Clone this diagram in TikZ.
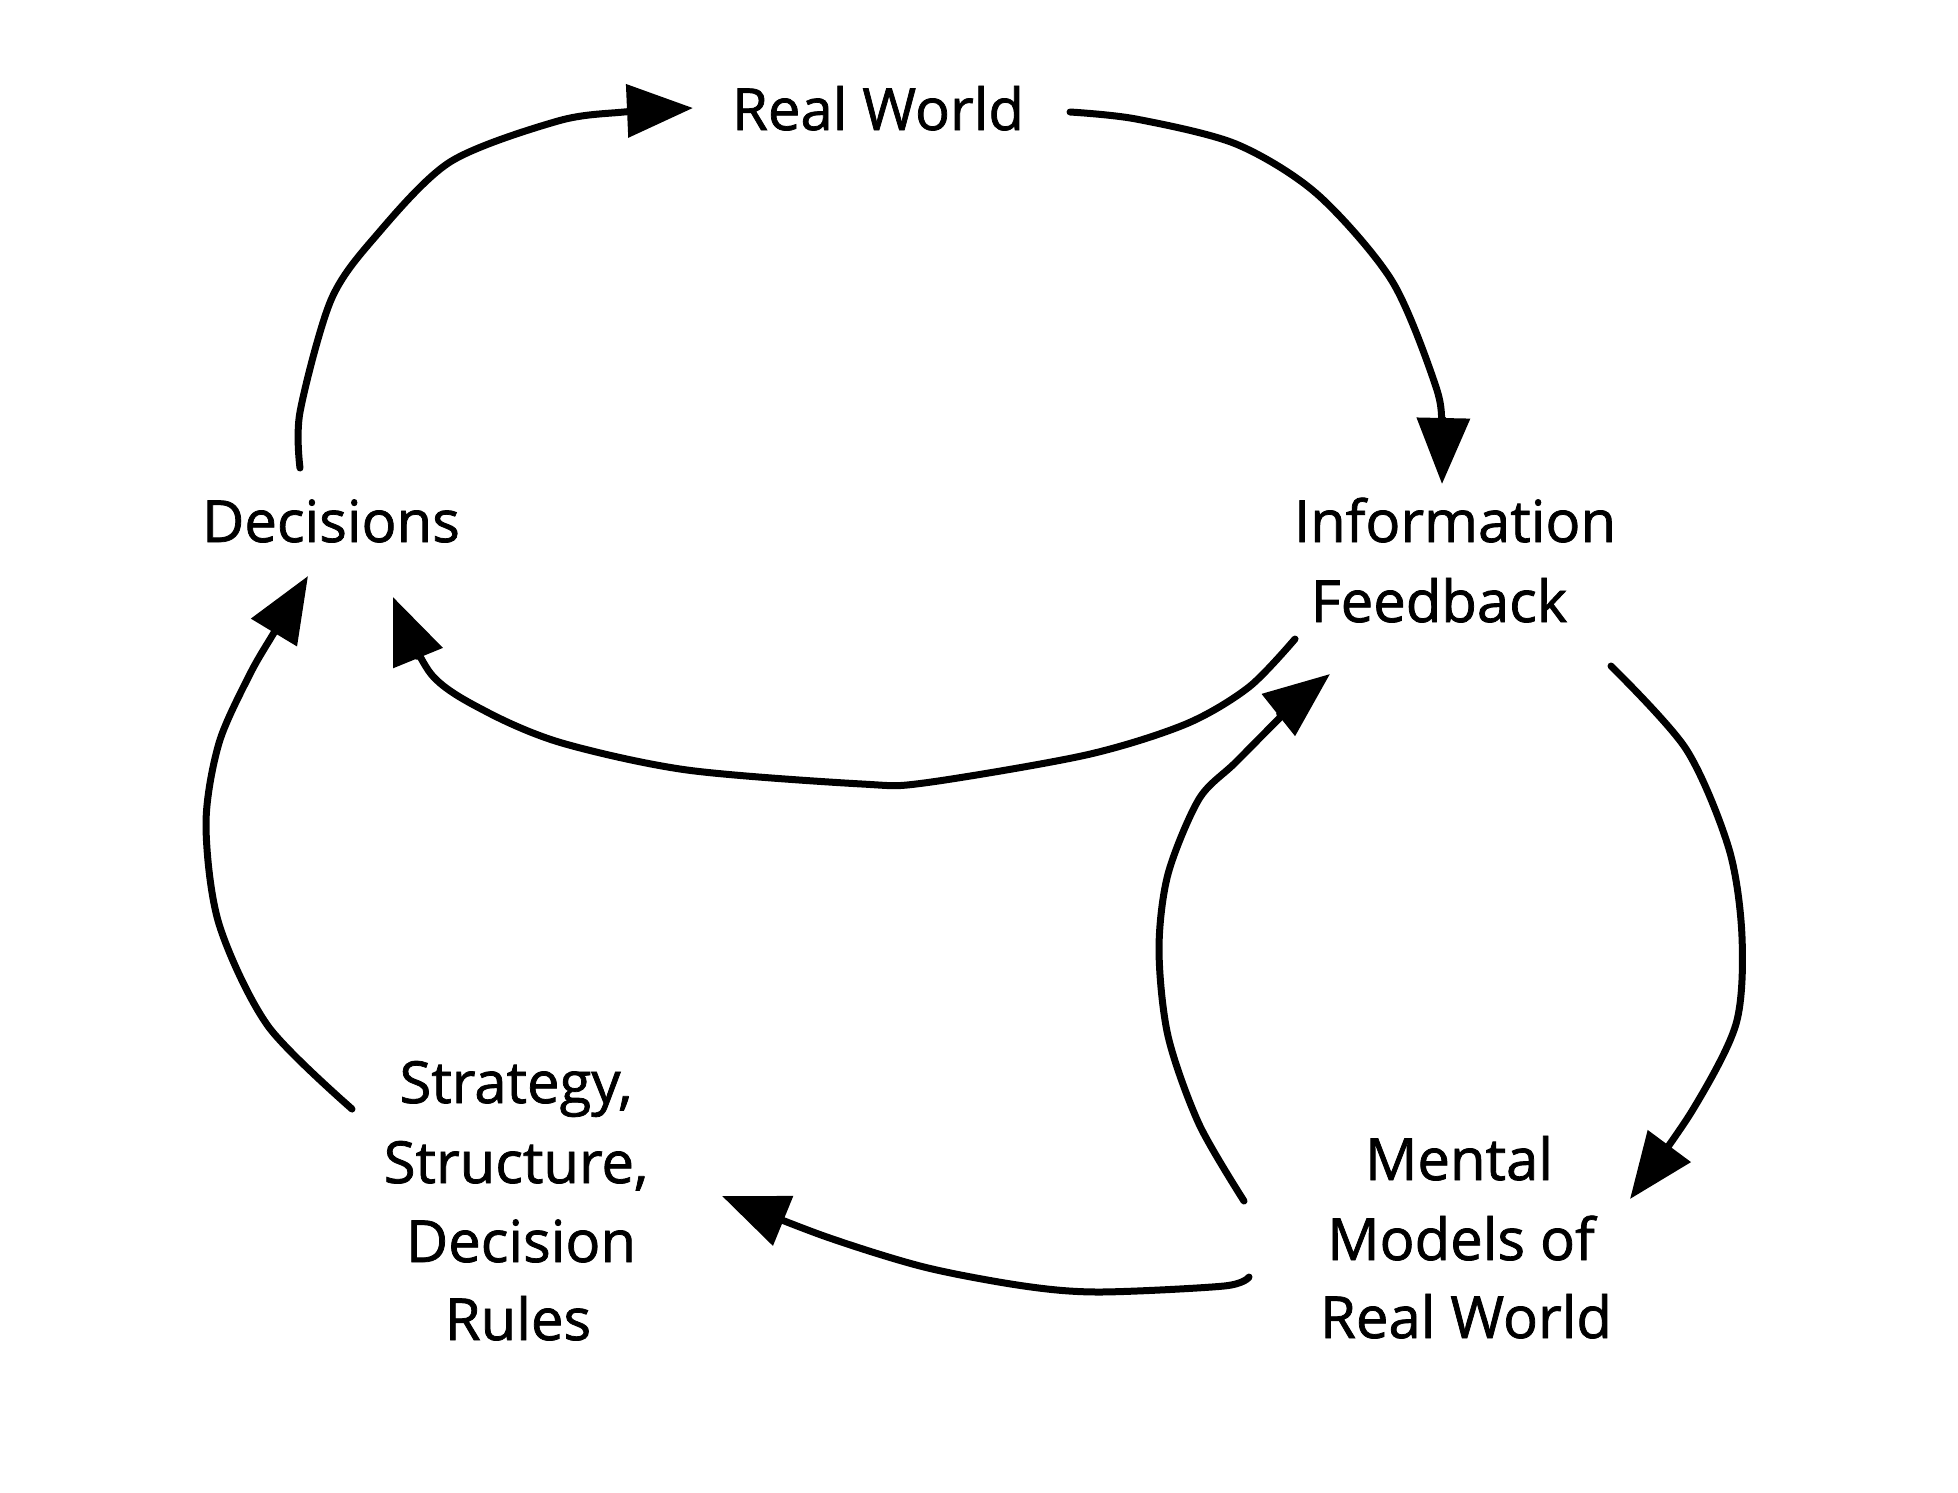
\documentclass[tikz,border=0pt]{standalone}
\usepackage{fontspec}
\setmainfont{Open Sans}[FakeBold=1.3]
\usetikzlibrary{arrows.meta}
\tikzset{
  lbl/.style={anchor=base, inner sep=0pt, font=\fontsize{58}{78}\selectfont},
  flow/.style={line width=7pt, line cap=round, line join=round,
    -{Triangle[length=66pt,width=52pt]}},
}
\begin{document}
\begin{tikzpicture}[x=1pt,y=-1pt]
\useasboundingbox[fill=white] (0,0) rectangle (1958,1492);
% labels
\node[lbl] (rw) at (878,130) {Real World};
\node[lbl] (dec) at (331,542) {Decisions};
\node[lbl] (info1) at (1455,542) {Information};
\node[lbl] (info2) at (1439,622) {Feedback};
\node[lbl] (st1) at (516,1103) {Strategy,};
\node[lbl] (st2) at (516,1183) {Structure,};
\node[lbl] (st3) at (521,1262) {Decision};
\node[lbl] (st4) at (518,1340) {Rules};
\node[lbl] (mm1) at (1459,1180) {Mental};
\node[lbl] (mm2) at (1461,1260) {Models of};
\node[lbl] (mm3) at (1466,1338) {Real World};
% connector ends
\coordinate (a1s) at (300,468);  \coordinate (a1e) at (693,108);
\coordinate (a2s) at (1070,112); \coordinate (a2e) at (1442,484);
\coordinate (a3s) at (1295,639); \coordinate (a3e) at (393,597);
\coordinate (a4s) at (1611,666); \coordinate (a4e) at (1630,1199);
\coordinate (a5s) at (1244,1201);\coordinate (a5e) at (1330,674);
\coordinate (a6s) at (1249,1277);\coordinate (a6e) at (722,1196);
\coordinate (a7s) at (352,1109); \coordinate (a7e) at (308,576);
% connectors
\draw[flow] plot[smooth, tension=0.5] coordinates {(a1s) (300,412) (331,300) (375,237) (450,162) (558,121) (624,112) (a1e)};
\draw[flow] plot[smooth, tension=0.5] coordinates {(a2s) (1136,119) (1236,144) (1317,194) (1392,281) (1436,387) (1442,431) (a2e)};
\draw[flow] plot[smooth, tension=0.5] coordinates {(a3s) (1249,687) (1186,724) (1086,755) (924,783) (862,784) (687,770) (562,743) (487,712) (431,674) (a3e)};
\draw[flow] plot[smooth, tension=0.5] coordinates {(a4s) (1686,749) (1729,849) (1742,937) (1736,1024) (1692,1111) (a4e)};
\draw[flow] plot[smooth, tension=0.5] coordinates {(a5s) (1199,1124) (1168,1036) (1159,949) (1168,874) (1199,799) (1236,762) (1292,706) (a5e)};
\draw[flow] plot[smooth, tension=0.5] coordinates {(a6s) (1224,1286) (1099,1292) (1024,1286) (924,1267) (824,1236) (a6e)};
\draw[flow] plot[smooth, tension=0.5] coordinates {(a7s) (268,1026) (219,924) (206,824) (219,743) (250,674) (275,631) (a7e)};
\end{tikzpicture}
\end{document}
